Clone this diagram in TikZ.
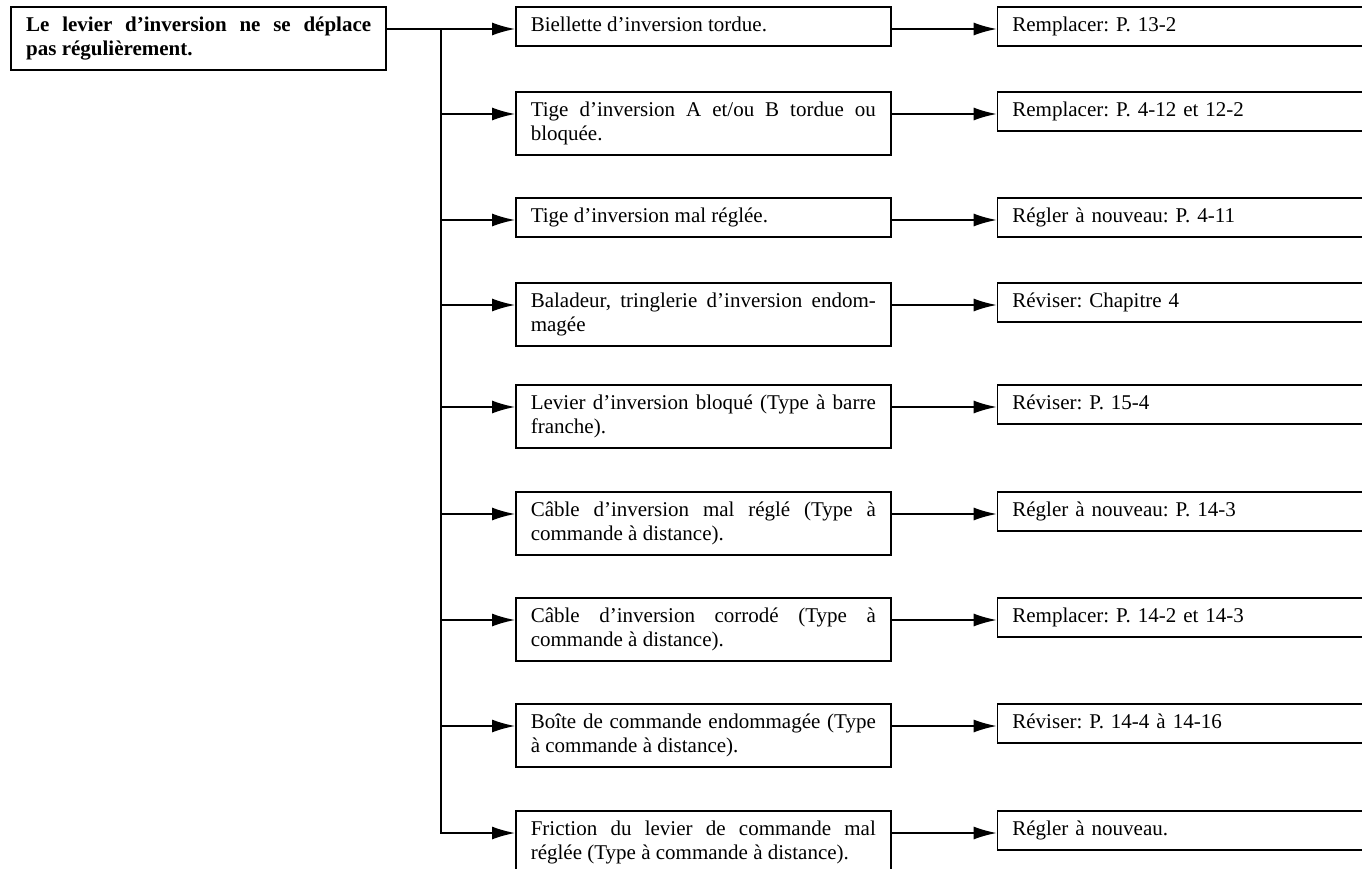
\documentclass[tikz,border=0pt]{standalone}
\usepackage{fontspec}
\setmainfont{Liberation Serif}
\usetikzlibrary{arrows.meta, positioning}
\frenchspacing

\begin{document}
\begin{tikzpicture}[
    x=1pt, y=-1pt,
    node distance=105pt,
    every node/.style={draw, line width=1.6pt, inner xsep=15pt, inner ysep=7.5pt,
        font=\fontsize{21}{24}\selectfont,
        execute at begin node=\strut, execute at end node=\strut},
    fault/.style={text width=345pt, align=justify, font=\fontsize{21}{24}\selectfont\bfseries},
    cause/.style={text width=345pt, align=justify},
    remedy/.style={text width=390pt, align=left},
    flow/.style={line width=1.5pt, -{Latex[length=23pt, width=13pt]}}
]

    \useasboundingbox (0,0) rectangle (1362,869);
    \clip (0,0) rectangle (1362,869);

    % Nodes
    \node[fault, anchor=mid east] (root) at (387,29) {Le levier d'inversion ne se déplace\linebreak pas régulièrement.};

    \node[cause, anchor=mid west] (m1) at (515,29) {Biellette d'inversion tordue.};
    \node[cause, anchor=mid west] (m2) at (515,114) {Tige d'inversion A et/ou B tordue ou\linebreak bloquée.};
    \node[cause, anchor=mid west] (m3) at (515,220) {Tige d'inversion mal réglée.};
    \node[cause, anchor=mid west] (m4) at (515,305) {Baladeur, tringlerie d'inversion endom-\linebreak magée};
    \node[cause, anchor=mid west] (m5) at (515,407) {Levier d'inversion bloqué (Type à barre\linebreak franche).};
    \node[cause, anchor=mid west] (m6) at (515,514) {Câble d'inversion mal réglé (Type à\linebreak commande à distance).};
    \node[cause, anchor=mid west] (m7) at (515,620) {Câble d'inversion corrodé (Type à\linebreak commande à distance).};
    \node[cause, anchor=mid west] (m8) at (515,726) {Boîte de commande endommagée (Type\linebreak à commande à distance).};
    \node[cause, anchor=mid west] (m9) at (515,833) {Friction du levier de commande mal\linebreak réglée (Type à commande à distance).};

    \node[remedy, right=of m1.mid east, anchor=mid west] (r1) {Remplacer: P. 13-2};
    \node[remedy, right=of m2.mid east, anchor=mid west] (r2) {Remplacer: P. 4-12 et 12-2};
    \node[remedy, right=of m3.mid east, anchor=mid west] (r3) {Régler à nouveau: P. 4-11};
    \node[remedy, right=of m4.mid east, anchor=mid west] (r4) {Réviser: Chapitre 4};
    \node[remedy, right=of m5.mid east, anchor=mid west] (r5) {Réviser: P. 15-4};
    \node[remedy, right=of m6.mid east, anchor=mid west] (r6) {Régler à nouveau: P. 14-3};
    \node[remedy, right=of m7.mid east, anchor=mid west] (r7) {Remplacer: P. 14-2 et 14-3};
    \node[remedy, right=of m8.mid east, anchor=mid west] (r8) {Réviser: P. 14-4 à 14-16};
    \node[remedy, right=of m9.mid east, anchor=mid west] (r9) {Régler à nouveau.};

    % Branches from the fault
    \coordinate (trunk) at (441,29);
    \draw[flow] (root.mid east) -- (m1.mid west);
    \draw[flow] (trunk) |- (m9.mid west);
    \draw[flow] (trunk |- m2.mid west) -- (m2.mid west);
    \draw[flow] (trunk |- m3.mid west) -- (m3.mid west);
    \draw[flow] (trunk |- m4.mid west) -- (m4.mid west);
    \draw[flow] (trunk |- m5.mid west) -- (m5.mid west);
    \draw[flow] (trunk |- m6.mid west) -- (m6.mid west);
    \draw[flow] (trunk |- m7.mid west) -- (m7.mid west);
    \draw[flow] (trunk |- m8.mid west) -- (m8.mid west);

    % Cause -> remedy
    \draw[flow] (m1.mid east) -- (r1.mid west);
    \draw[flow] (m2.mid east) -- (r2.mid west);
    \draw[flow] (m3.mid east) -- (r3.mid west);
    \draw[flow] (m4.mid east) -- (r4.mid west);
    \draw[flow] (m5.mid east) -- (r5.mid west);
    \draw[flow] (m6.mid east) -- (r6.mid west);
    \draw[flow] (m7.mid east) -- (r7.mid west);
    \draw[flow] (m8.mid east) -- (r8.mid west);
    \draw[flow] (m9.mid east) -- (r9.mid west);
\end{tikzpicture}
\end{document}
